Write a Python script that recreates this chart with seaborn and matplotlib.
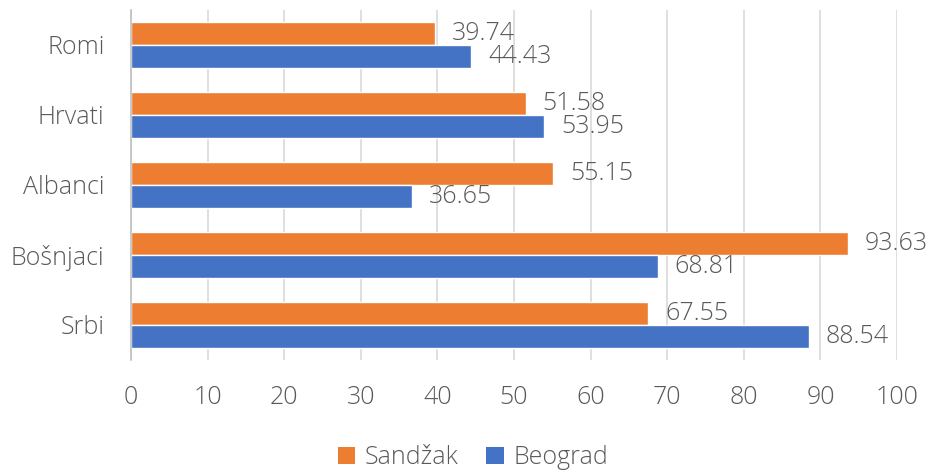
import matplotlib
matplotlib.use("Agg")
import matplotlib.pyplot as plt
import seaborn as sns
import pandas as pd
from matplotlib.patches import Patch

categories = ["Romi", "Hrvati", "Albanci", "Bošnjaci", "Srbi"]
sandzak = [39.74, 51.58, 55.15, 93.63, 67.55]
beograd = [44.43, 53.95, 36.65, 68.81, 88.54]
series = ["Sandžak", "Beograd"]
colors = {"Sandžak": "#ED7D31", "Beograd": "#4472C4"}
xticks = [0, 10, 20, 30, 40, 50, 60, 70, 80, 90, 100]

df = pd.DataFrame({
    "category": categories * 2,
    "value": sandzak + beograd,
    "series": [series[0]] * len(categories) + [series[1]] * len(categories),
})

sns.set_theme(style="white")
plt.rcParams["font.family"] = ["Open Sans", "DejaVu Sans"]
plt.rcParams["font.weight"] = "light"
text_color = "#595959"
fs = 18

fig = plt.figure(figsize=(9.33, 4.71), dpi=100)
ax = fig.add_axes([0.1404, 0.2357, 0.8210, 0.7433])

sns.barplot(data=df, y="category", x="value", hue="series", order=categories,
            hue_order=series, palette=colors, orient="h", width=0.66, gap=0,
            saturation=1, legend=False, ax=ax)

for cont in ax.containers:
    ax.bar_label(cont, fmt="%.2f", padding=12, fontsize=fs, color=text_color)

ax.set_xlim(0, 100)
ax.set_ylim(4.5, -0.5)
ax.set_xticks(xticks)
ax.set_xticklabels([str(t) for t in xticks])
ax.set_xlabel("")
ax.set_ylabel("")
ax.grid(axis="x", color="#d9d9d9", linewidth=1.2)
ax.set_axisbelow(True)
for s in ["top", "right", "bottom"]:
    ax.spines[s].set_visible(False)
ax.spines["left"].set_color("#bfbfbf")
ax.spines["left"].set_linewidth(1.2)

ax.tick_params(axis="x", length=0, pad=18, labelsize=fs, labelcolor=text_color)
ax.tick_params(axis="y", which="major", length=0, pad=19, labelsize=fs, labelcolor=text_color)
ax.set_yticks([-0.5, 0.5, 1.5, 2.5, 3.5, 4.5], minor=True)
ax.tick_params(axis="y", which="minor", length=6, width=1.2, color="#bfbfbf", direction="out")

handles = [Patch(facecolor=colors[s], edgecolor="none") for s in series]
fig.legend(handles, series, loc="center", bbox_to_anchor=(0.507, 0.028), ncol=2,
           frameon=False, fontsize=fs, labelcolor=text_color, handlelength=0.7,
           handleheight=0.7, handletextpad=0.4, columnspacing=1.1)

fig.savefig("out.png", dpi=100)
